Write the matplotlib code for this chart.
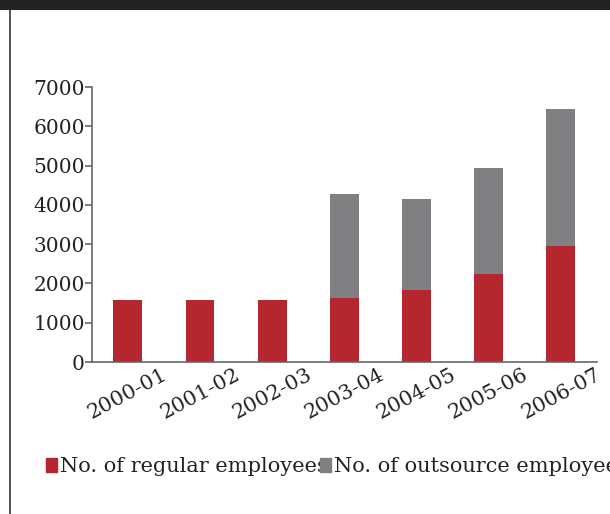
import matplotlib.pyplot as plt
from matplotlib.patches import Patch, Rectangle
from matplotlib.lines import Line2D

years = ['2000-01', '2001-02', '2002-03', '2003-04', '2004-05', '2005-06', '2006-07']
regular = [1580, 1580, 1580, 1630, 1830, 2250, 2960]
outsource = [0, 0, 0, 2650, 2320, 2690, 3480]
series_names = ['No. of regular employees', 'No. of outsource employees']

RED = '#b5272e'
GRAY = '#808082'
AXC = '#666666'

plt.rcParams['font.family'] = 'DejaVu Serif'

fig = plt.figure(figsize=(6.1, 5.14), dpi=100)

# header strip and left frame line
fig.patches.append(Rectangle((0, 1 - 10 / 514), 1, 10 / 514, transform=fig.transFigure,
                             facecolor='#232323', edgecolor='none'))
fig.lines.append(Line2D([9.5 / 610, 9.5 / 610], [0, 1 - 10 / 514], transform=fig.transFigure,
                        color='#333333', lw=1.2))

ax = fig.add_axes([91.7 / 610, 152 / 514, (597 - 91.7) / 610, (362 - 87) / 514])
x = range(len(years))
ax.bar(x, regular, width=0.4, color=RED, label=series_names[0])
ax.bar(x, outsource, width=0.4, bottom=regular, color=GRAY, label=series_names[1])

ax.set_xlim(-0.5, 6.5)
ax.set_ylim(0, 7000)
ax.set_yticks(range(0, 7001, 1000))
ax.set_xticks(list(x))
ax.set_xticklabels(years, rotation=28, ha='center')

for s in ['top', 'right']:
    ax.spines[s].set_visible(False)
for s in ['left', 'bottom']:
    ax.spines[s].set_color(AXC)
    ax.spines[s].set_linewidth(1.2)

ax.tick_params(axis='y', length=5, width=1.2, color=AXC, pad=0, labelsize=14.5, labelcolor='#222222')
ax.tick_params(axis='x', length=0, pad=2, labelsize=15, labelcolor='#222222')

handles = [Patch(color=RED), Patch(color=GRAY)]
fig.legend(handles, series_names, ncol=2, loc='center left',
           bbox_to_anchor=(46 / 610, 1 - 467 / 514), frameon=False,
           fontsize=15, handlelength=0.55, handleheight=0.62,
           handletextpad=0.14, columnspacing=-0.4, borderaxespad=0, borderpad=0,
           labelcolor='#222222')

plt.savefig('out.png')
plt.close()
